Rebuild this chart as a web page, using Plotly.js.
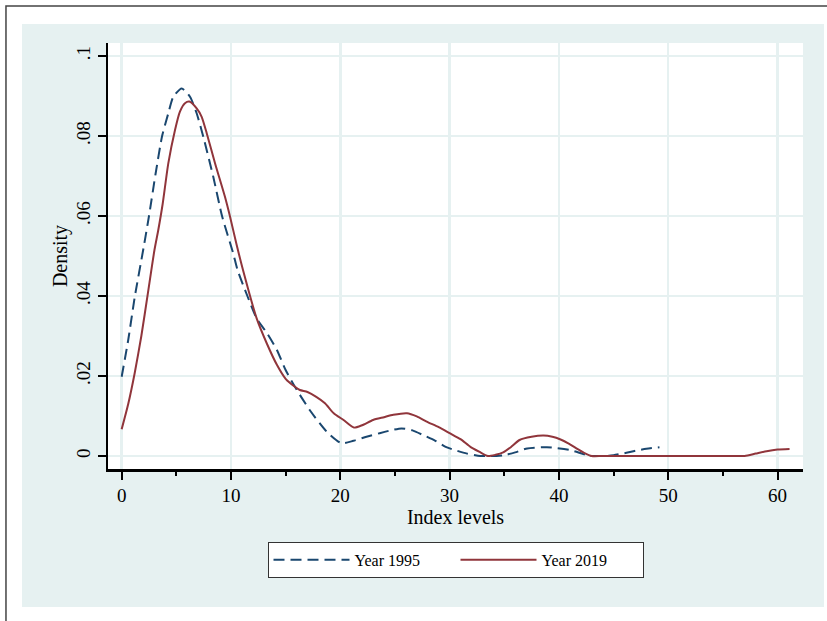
<!DOCTYPE html>
<html>
<head>
<meta charset="utf-8">
<script src="https://cdn.plot.ly/plotly-3.0.1.min.js"></script>
<style>html,body{margin:0;padding:0;background:#fff;}#chart{width:827px;height:621px;}</style>
</head>
<body>
<div id="chart"></div>
<script>
// Year 1995 density (dashed navy)
var x1995 = [0, 0.6, 1.2, 2.0, 2.5, 3.1, 3.7, 4.27, 4.72, 5.49, 6.25, 6.86, 7.47, 8.38, 9.2, 10.2, 10.6, 11.5, 12.35, 13.3, 14.2, 15.0, 15.85, 17.2, 18.75, 20.1, 21.2, 22.4, 23.6, 24.6, 25.6, 26.6, 27.6, 28.7, 29.7, 30.7, 31.6, 32.8, 33.5, 34.3, 35.0, 36.0, 37.1, 38.9, 41.0, 42.0, 42.8, 43.6, 44.3, 45.0, 46.0, 47.0, 48.0, 49.2];
var y1995 = [0.0198, 0.029, 0.0398, 0.052, 0.060, 0.0705, 0.080, 0.0857, 0.0898, 0.0919, 0.0898, 0.0857, 0.0798, 0.0698, 0.0598, 0.0507, 0.0465, 0.040, 0.0344, 0.0307, 0.0265, 0.0215, 0.0173, 0.0115, 0.0061, 0.0032, 0.0038, 0.0048, 0.0057, 0.0064, 0.0069, 0.0064, 0.0052, 0.0038, 0.0022, 0.0013, 0.0006, 0.0, 0.0, 0.0, 0.0002, 0.0009, 0.0019, 0.0022, 0.0015, 0.0007, 0.0, 0.0, 0.0, 0.0002, 0.0007, 0.0013, 0.0018, 0.0022];

// Year 2019 density (solid maroon)
var x2019 = [0, 0.6, 1.19, 1.8, 2.4, 3.0, 3.35, 3.75, 4.27, 4.88, 5.33, 5.79, 6.19, 6.86, 7.32, 7.78, 8.54, 9.45, 9.9, 10.5, 11.1, 12.35, 13.3, 14.2, 15.0, 15.85, 16.3, 17.0, 17.8, 18.6, 19.4, 20.3, 21.25, 22.0, 23.0, 24.0, 24.85, 26.1, 27.0, 27.9, 29.0, 30.0, 31.0, 31.9, 32.7, 33.5, 34.2, 34.9, 35.6, 36.4, 37.5, 38.6, 39.4, 40.1, 40.9, 41.6, 42.3, 43.0, 44.0, 50.0, 56.0, 57.0, 58.0, 59.0, 60.0, 61.1];
var y2019 = [0.0067, 0.013, 0.0207, 0.030, 0.0407, 0.0515, 0.0565, 0.063, 0.0732, 0.0815, 0.0861, 0.0882, 0.0886, 0.0869, 0.0848, 0.0807, 0.0732, 0.0648, 0.060, 0.053, 0.0465, 0.0344, 0.028, 0.0228, 0.0193, 0.0173, 0.0165, 0.016, 0.0148, 0.0132, 0.0107, 0.0090, 0.0071, 0.0077, 0.009, 0.0097, 0.0103, 0.0107, 0.0099, 0.0086, 0.0072, 0.0057, 0.0042, 0.0023, 0.0011, 0.0, 0.0003, 0.0009, 0.0022, 0.004, 0.0048, 0.0051, 0.0048, 0.0042, 0.0031, 0.0019, 0.0008, 0.0, 0.0, 0.0, 0.0, 0.0, 0.0006, 0.0012, 0.0016, 0.00175];

var seriesNames = ['Year 1995', 'Year 2019'];
var xTickVals = [0, 10, 20, 30, 40, 50, 60];
var yTickVals = [0, 0.02, 0.04, 0.06, 0.08, 0.1];
var yTickText = ['0', '.02', '.04', '.06', '.08', '.1'];

var serif = 'Liberation Serif, Times New Roman, serif';
var regionColor = '#e6f1f1';

var traces = [
  {x: x1995, y: y1995, type: 'scatter', mode: 'lines', name: seriesNames[0],
   line: {color: '#1a476f', width: 2, dash: '11px,6px', shape: 'spline', smoothing: 0.6}},
  {x: x2019, y: y2019, type: 'scatter', mode: 'lines', name: seriesNames[1],
   line: {color: '#90353b', width: 2, shape: 'spline', smoothing: 0.6}}
];

var layout = {
  width: 827, height: 621,
  margin: {l: 108, r: 24, t: 43, b: 152},
  paper_bgcolor: '#ffffff',
  plot_bgcolor: '#ffffff',
  font: {family: serif, color: '#000'},
  showlegend: true,
  legend: {
    orientation: 'h', x: 0.5, xanchor: 'center', y: -0.171, yanchor: 'top',
    bgcolor: '#ffffff', bordercolor: '#333', borderwidth: 1,
    font: {family: serif, size: 16, color: '#000'},
    itemwidth: 76, entrywidth: 96, traceorder: 'normal'
  },
  xaxis: {
    range: [-1.25, 62.33], tickvals: xTickVals, ticktext: xTickVals.map(String),
    showgrid: true, gridcolor: regionColor, gridwidth: 2.5, zeroline: false,
    showline: true, linecolor: '#000', linewidth: 2.5,
    ticks: 'outside', ticklen: 8, tickwidth: 2, tickcolor: '#000',
    tickfont: {family: serif, size: 19, color: '#000'},
    minor: {dtick: 5, ticks: 'outside', ticklen: 4, tickwidth: 2, tickcolor: '#000', showgrid: false},
    title: {text: 'Index levels', font: {family: serif, size: 20, color: '#000'}, standoff: 4}
  },
  yaxis: {
    range: [-0.00325, 0.10325], tickvals: yTickVals, ticktext: yTickText, tickangle: -90,
    showgrid: true, gridcolor: regionColor, gridwidth: 2.5, zeroline: false,
    showline: true, linecolor: '#000', linewidth: 2.5,
    ticks: 'outside', ticklen: 8, tickwidth: 2, tickcolor: '#000',
    tickfont: {family: serif, size: 19, color: '#000'},
    title: {text: 'Density', font: {family: serif, size: 20, color: '#000'}, standoff: 0}
  },
  shapes: [
    {type: 'rect', xref: 'paper', yref: 'paper', x0: -0.1468, x1: 1.2, y0: -0.6, y1: 1.0869,
     line: {color: '#444', width: 1.5}, fillcolor: 'rgba(0,0,0,0)', layer: 'below'},
    {type: 'rect', xref: 'paper', yref: 'paper', x0: -0.1237, x1: 1.0302, y0: -0.3239, y1: 1.0446,
     line: {width: 0}, fillcolor: regionColor, layer: 'below'},
    {type: 'rect', xref: 'paper', yref: 'paper', x0: 0, x1: 1, y0: 0, y1: 1,
     line: {width: 0}, fillcolor: '#ffffff', layer: 'below'}
  ]
};

Plotly.newPlot('chart', traces, layout, {displayModeBar: false, staticPlot: true});
</script>
</body>
</html>
